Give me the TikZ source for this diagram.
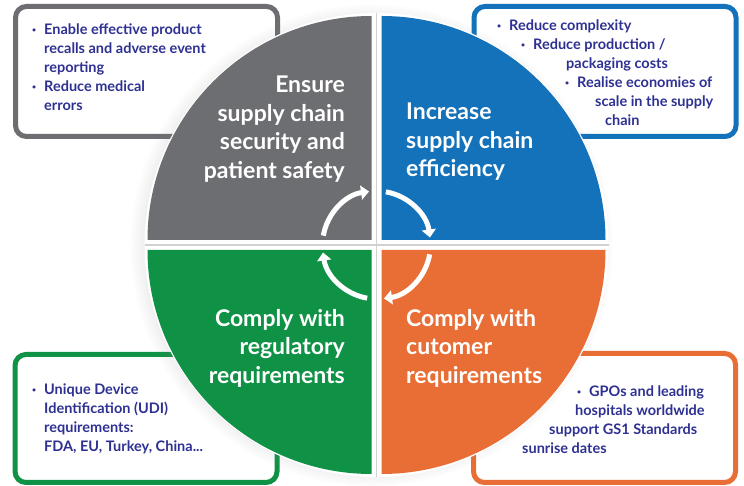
\documentclass[tikz,border=0pt]{standalone}
\usepackage{fontspec}
\setmainfont{Lato}
\usetikzlibrary{arrows.meta,calc,fadings,shadows}

\definecolor{secgray}{HTML}{6D6E71}
\definecolor{effblue}{HTML}{1372B9}
\definecolor{custorange}{HTML}{E86E35}
\definecolor{reggreen}{HTML}{0F9245}
\definecolor{pointblue}{HTML}{2E3192}

\newcommand{\bul}{\makebox[12pt][l]{\raisebox{2.5pt}{\fontsize{7}{7}\selectfont\textbullet}}}

\begin{document}
\begin{tikzpicture}[x=1pt,y=1pt,
  goalbox/.style={draw, line width=5pt, rounded corners=11pt, fill=white, inner sep=0pt,
    minimum width=262pt, drop shadow={shadow xshift=-2pt,shadow yshift=-2pt,opacity=.15}},
  goaltext/.style={text=white, font=\fontsize{23}{28.5}\selectfont\bfseries, inner sep=0pt},
  pointtext/.style={text=pointblue, font=\fontsize{14.5}{19}\selectfont\bfseries, inner sep=0pt,
    align=left, anchor=north west},
  cyclearrow/.style={white, line width=5pt, -{Triangle[width=14pt,length=8pt]}}]
\fill[white] (0,0) rectangle (744,486);
\useasboundingbox (0,0) rectangle (744,486);

% boxes behind the wheel
\node[goalbox, draw=secgray, minimum height=130pt] (secbox) at (146.5,414.5) {};
\node[goalbox, draw=effblue, minimum height=130pt] (effbox) at (605,414.5) {};
\node[goalbox, draw=reggreen, minimum height=128pt] (regbox) at (146,67.5) {};
\node[goalbox, draw=custorange, minimum height=129pt] (custbox) at (604.5,68) {};

% the wheel
\coordinate (c) at (376.5,241);
\fill[white, circular drop shadow={shadow xshift=-5pt,shadow yshift=0pt,shadow scale=1.04,opacity=.3}]
  (c) circle (232);
\draw[black!18, line width=1.2pt] ($(c)+(-232,0)$) -- ($(c)+(232,0)$);
\draw[black!18, line width=1.2pt] ($(c)+(0,-232)$) -- ($(c)+(0,232)$);
\fill[secgray] ($(c)+(-5,5)$) -- ++(-224,0) arc[start angle=180,end angle=90,radius=224] -- cycle;
\fill[effblue] ($(c)+(5,5)$) -- ++(224,0) arc[start angle=0,end angle=90,radius=224] -- cycle;
\fill[custorange] ($(c)+(5,-5)$) -- ++(224,0) arc[start angle=0,end angle=-90,radius=224] -- cycle;
\fill[reggreen] ($(c)+(-5,-5)$) -- ++(-224,0) arc[start angle=180,end angle=270,radius=224] -- cycle;

% cycle arrows
\draw[cyclearrow] ($(c)+(170:54)$) arc[start angle=170,end angle=98,radius=54];
\draw[cyclearrow] ($(c)+(80:54)$) arc[start angle=80,end angle=8,radius=54];
\draw[cyclearrow] ($(c)+(-10:54)$) arc[start angle=-10,end angle=-82,radius=54];
\draw[cyclearrow] ($(c)+(-100:54)$) arc[start angle=-100,end angle=-172,radius=54];

% goals
\node[goaltext, anchor=north east, align=right] (sectext) at (345,410)
  {Ensure\\supply chain\\security and\\patient safety};
\node[goaltext, anchor=north west, align=left] (efftext) at (406,383)
  {Increase\\supply chain\\efficiency};
\node[goaltext, anchor=north west, align=left] (custtext) at (406,177)
  {Comply with\\cutomer\\requirements};
\node[goaltext, anchor=north east, align=right] (regtext) at (345,177)
  {Comply with\\regulatory\\requirements};

% points in the boxes
\node[pointtext] (secpoints) at (32,462)
  {\bul Enable effective product\\
   \hspace*{12pt}recalls and adverse event\\
   \hspace*{12pt}reporting\\
   \bul Reduce medical\\
   \hspace*{12pt}errors};
\node[pointtext] (effpoints) at (497,466)
  {\bul Reduce complexity\\
   \hspace*{24pt}\bul Reduce production /\\
   \hspace*{69pt}packaging costs\\
   \hspace*{68pt}\bul Realise economies of\\
   \hspace*{98pt}scale in the supply\\
   \hspace*{108pt}chain};
\node[pointtext] (regpoints) at (32,102)
  {\bul Unique Device\\
   \hspace*{12pt}Identification (UDI)\\
   \hspace*{12pt}requirements:\\
   \hspace*{12pt}FDA, EU, Turkey, China...};
\node[pointtext] (custpoints) at (522,100)
  {\hspace*{55pt}\bul GPOs and leading\\
   \hspace*{53pt}hospitals worldwide\\
   \hspace*{27pt}support GS1 Standards\\
   sunrise dates};
\end{tikzpicture}
\end{document}
